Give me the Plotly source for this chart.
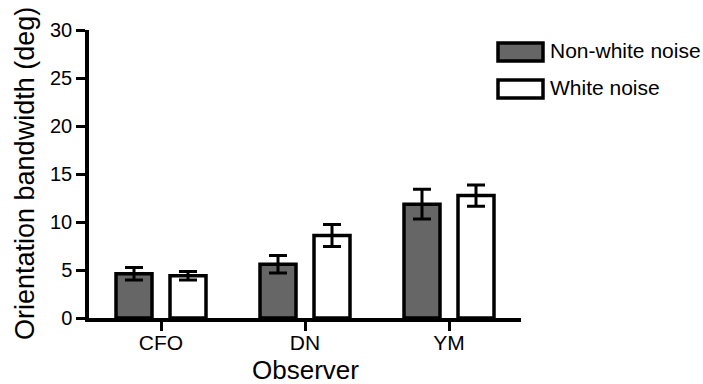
import plotly.graph_objects as go

observers = ["CFO", "DN", "YM"]
non_white = [4.6, 5.6, 11.85]
non_white_err = [0.65, 0.9, 1.55]
white = [4.4, 8.6, 12.75]
white_err = [0.45, 1.15, 1.1]

y_ticks = [0, 5, 10, 15, 20, 25, 30]
series_names = ["Non-white noise", "White noise"]
x_title = "Observer"
y_title = "Orientation bandwidth (deg)"
dark_fill = "#666666"

font_family = "Liberation Sans, Arial, Helvetica, sans-serif"

# plot area in pixels
L, R, T, B = 89, 521, 30, 318
W, H = R - L, B - T

def px_x(x):
    return (x - L) / W

def px_y(y):
    return (B - y) / H

fig = go.Figure()
for name, vals, errs, fill in [
    (series_names[0], non_white, non_white_err, dark_fill),
    (series_names[1], white, white_err, "white"),
]:
    fig.add_trace(go.Bar(
        x=observers, y=vals, name=name,
        marker=dict(color=fill, line=dict(color="black", width=3.5)),
        error_y=dict(type="data", array=errs, visible=True,
                     color="black", thickness=3, width=9),
        showlegend=False,
    ))

# Hand-drawn legend: wide outlined swatches with labels
for row, (label, fill) in enumerate(zip(series_names, [dark_fill, "white"])):
    y_top = 43 + row * 37
    fig.add_shape(type="rect", xref="paper", yref="paper",
                  x0=px_x(498), x1=px_x(543),
                  y0=px_y(y_top + 18), y1=px_y(y_top),
                  fillcolor=fill, line=dict(color="black", width=3.5))
    fig.add_annotation(xref="paper", yref="paper",
                       x=px_x(548), y=px_y(y_top + 8),
                       xanchor="left", yanchor="middle", showarrow=False,
                       text=label, font=dict(size=21, color="black", family=font_family))

# Axis titles
fig.add_annotation(xref="paper", yref="paper", x=px_x(305), y=px_y(370),
                   xanchor="center", yanchor="middle", showarrow=False,
                   text=x_title, font=dict(size=26, color="black", family=font_family))
fig.add_annotation(xref="paper", yref="paper", x=px_x(25), y=0.5,
                   xanchor="center", yanchor="middle", showarrow=False, textangle=-90,
                   text=y_title, font=dict(size=27, color="black", family=font_family))

fig.update_layout(
    width=703, height=384,
    margin=dict(l=L, r=703 - R, t=T, b=384 - B),
    paper_bgcolor="white", plot_bgcolor="white",
    barmode="group", bargap=0.25, bargroupgap=1 / 3,
    font=dict(family=font_family, color="black"),
    xaxis=dict(
        range=[-0.5, 2.5], showgrid=False, zeroline=False, automargin=False,
        showline=True, linecolor="black", linewidth=3.5,
        ticks="outside", ticklen=9, tickwidth=3, tickcolor="black",
        tickfont=dict(size=21), ticklabelstandoff=-6,
    ),
    yaxis=dict(
        range=[0, 30], tickvals=y_ticks, showgrid=False, zeroline=False, automargin=False,
        showline=True, linecolor="black", linewidth=3.5,
        ticks="outside", ticklen=9, tickwidth=3, tickcolor="black",
        tickfont=dict(size=20),
    ),
)

fig.write_html("out.html")
